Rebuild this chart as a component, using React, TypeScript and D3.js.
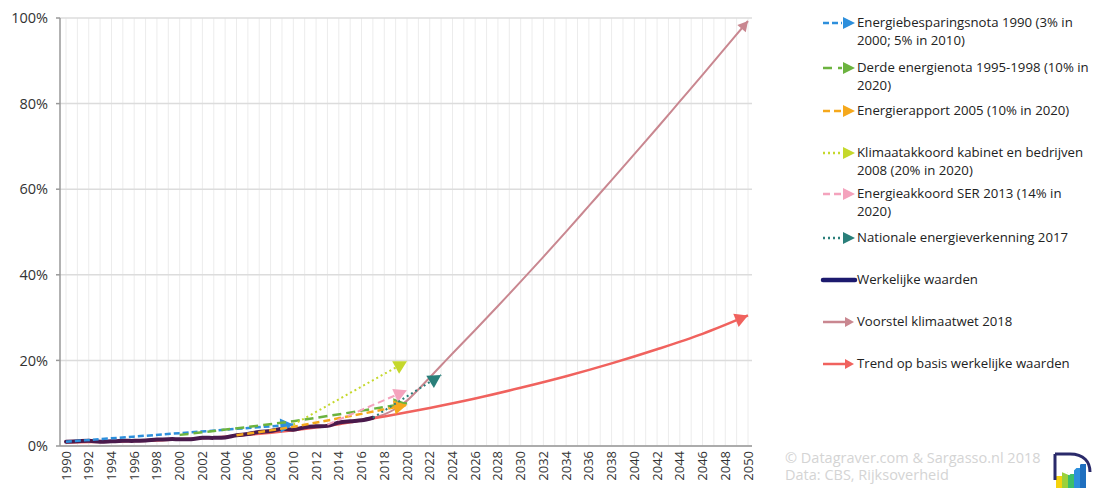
import React from "react";
import * as d3 from "d3";

const years = d3.range(1990, 2051);
const yTicks = [0, 20, 40, 60, 80, 100];

// Werkelijke waarden (actual share, %)
const actualYears = [1990,1991,1992,1993,1994,1995,1996,1997,1998,1999,2000,2001,2002,2003,2004,2005,2006,2007,2008,2009,2010,2011,2012,2013,2014,2015,2016,2017];
const actualValues = [1.0,1.1,1.2,1.0,1.1,1.2,1.2,1.3,1.5,1.6,1.6,1.6,1.9,1.9,2.0,2.5,2.8,3.3,3.5,4.0,3.8,4.4,4.6,4.7,5.5,5.8,6.0,6.6];

// Trend op basis werkelijke waarden
const trendYears = [1990,1994,1998,2002,2006,2010,2014,2018,2022,2026,2030,2034,2038,2042,2046,2050];
const trendValues = [0.8,1.0,1.3,1.8,2.6,3.7,5.1,6.9,8.9,11.1,13.6,16.3,19.3,22.6,26.2,30.5];

// Voorstel klimaatwet 2018
const klimaatwetYears = [2017,2018,2019,2020,2021,2022,2023,2024,2026,2028,2030,2032,2034,2036,2038,2040,2042,2044,2046,2048,2050];
const klimaatwetValues = [6.6,7.4,8.7,10.6,13.2,16.0,18.8,21.6,27.1,32.7,38.4,44.2,50.1,56.1,62.1,68.2,74.3,80.5,86.7,93.0,99.3];

// Policy targets
const nota1990Years = [1990, 2000, 2010];
const nota1990Values = [1.0, 3.0, 5.0];
const derdeYears = [2000, 2010, 2020];
const derdeValues = [2.6, 5.8, 10.0];
const rapport2005Years = [2005, 2010, 2015, 2020];
const rapport2005Values = [2.5, 4.5, 7.0, 9.6];
const klimaatakkoordYears = [2010, 2020];
const klimaatakkoordValues = [5.0, 19.8];
const serYears = [2013, 2020];
const serValues = [5.0, 13.0];
const nevYears = [2017, 2023];
const nevValues = [6.6, 16.6];

const FONT = "'Open Sans', 'DejaVu Sans', sans-serif";

type Series = {
  key: string;
  years: number[];
  values: number[];
  color: string;
  width: number;
  dash?: string;
};

const policySeries: Series[] = [
  { key: "nota", years: nota1990Years, values: nota1990Values, color: "#2d8fdc", width: 2.5, dash: "6,3" },
  { key: "derde", years: derdeYears, values: derdeValues, color: "#6cb33f", width: 2.5, dash: "9,5" },
  { key: "rapport", years: rapport2005Years, values: rapport2005Values, color: "#f5a81c", width: 2.5, dash: "7,4" },
  { key: "akkoord", years: klimaatakkoordYears, values: klimaatakkoordValues, color: "#c5d82c", width: 2, dash: "2,3" },
  { key: "ser", years: serYears, values: serValues, color: "#f4a3bd", width: 2, dash: "7,4" },
  { key: "nev", years: nevYears, values: nevValues, color: "#2a7f7a", width: 2, dash: "2,3" },
];

const legendItems = [
  { lines: ["Energiebesparingsnota 1990 (3% in", "2000; 5% in 2010)"], color: "#2d8fdc", dash: "6,3", kind: "arrow", y: 27 },
  { lines: ["Derde energienota 1995-1998 (10% in", "2020)"], color: "#6cb33f", dash: "9,6", kind: "arrow", y: 72 },
  { lines: ["Energierapport 2005 (10% in 2020)"], color: "#f5a81c", dash: "7,4", kind: "arrow", y: 115 },
  { lines: ["Klimaatakkoord kabinet en bedrijven", "2008 (20% in 2020)"], color: "#c5d82c", dash: "2,3", kind: "arrow", y: 157 },
  { lines: ["Energieakkoord SER 2013 (14% in", "2020)"], color: "#f4a3bd", dash: "7,4", kind: "arrow", y: 198 },
  { lines: ["Nationale energieverkenning 2017"], color: "#2a7f7a", dash: "2,3", kind: "arrow", y: 242 },
  { lines: ["Werkelijke waarden"], color: "#1c1a6e", dash: "", kind: "thick", y: 284 },
  { lines: ["Voorstel klimaatwet 2018"], color: "#c98790", dash: "", kind: "line", y: 326 },
  { lines: ["Trend op basis werkelijke waarden"], color: "#f0625e", dash: "", kind: "line", y: 368 },
];

export default function App() {
  const W = 1094, H = 488;
  const plotLeft = 60, plotRight = 752, plotTop = 18, plotBottom = 446;
  const x = d3.scaleLinear().domain([1990, 2050]).range([66, 748]);
  const y = d3.scaleLinear().domain([0, 100]).range([plotBottom, plotTop]);

  const mk = (ys: number[], vs: number[]) =>
    d3.line<number>().x((_, i) => x(ys[i])).y((v) => y(v)).curve(d3.curveCatmullRom.alpha(0.5))(vs) || "";

  const arrowHead = (ys: number[], vs: number[], color: string, size: number, key: string) => {
    const n = ys.length;
    const x1 = x(ys[n - 2]), y1 = y(vs[n - 2]);
    const x2 = x(ys[n - 1]), y2 = y(vs[n - 1]);
    const ang = Math.atan2(y2 - y1, x2 - x1) * 180 / Math.PI;
    return (
      <path
        key={key}
        d={`M0,0 L${-size},${-size * 0.55} L${-size},${size * 0.55} Z`}
        fill={color}
        transform={`translate(${x2},${y2}) rotate(${ang})`}
      />
    );
  };

  return (
    <svg width={W} height={H} style={{ position: "absolute", left: 0, top: 0, background: "#fff" }} fontFamily={FONT}>
      {years.map((yr) => (
        <line key={"vg" + yr} x1={x(yr)} x2={x(yr)} y1={plotTop} y2={plotBottom} stroke="#ececec" strokeWidth={1} />
      ))}
      {yTicks.map((t) => (
        <line key={"hg" + t} x1={plotLeft} x2={plotRight} y1={y(t)} y2={y(t)} stroke="#dcdcdc" strokeWidth={1.5} />
      ))}
      <line x1={plotLeft} x2={plotLeft} y1={plotTop} y2={plotBottom} stroke="#999" strokeWidth={1.5} />
      <line x1={plotLeft} x2={plotRight} y1={plotBottom} y2={plotBottom} stroke="#999" strokeWidth={1.5} />
      {yTicks.map((t) => (
        <g key={"yt" + t}>
          <line x1={plotLeft - 4} x2={plotLeft} y1={y(t)} y2={y(t)} stroke="#999" strokeWidth={1.5} />
          <text x={48} y={y(t)} dy="0.36em" textAnchor="end" fontSize={14.5} fill="#333">{t}%</text>
        </g>
      ))}
      {years.filter((yr) => (yr - 1990) % 2 === 0).map((yr) => (
        <text key={"xt" + yr} transform={`translate(${x(yr)},${plotBottom + 5}) rotate(-90)`} textAnchor="end" dy="0.35em" fontSize={13} fill="#333">{yr}</text>
      ))}

      {/* Voorstel klimaatwet 2018 */}
      <path d={mk(klimaatwetYears, klimaatwetValues)} fill="none" stroke="#c98790" strokeWidth={2} />
      {arrowHead(klimaatwetYears, klimaatwetValues, "#c98790", 10, "kwa")}

      {/* trend line (under actual) */}
      <path d={mk(trendYears, trendValues)} fill="none" stroke="#f0625e" strokeWidth={2.5} />
      {arrowHead(trendYears, trendValues, "#f0625e", 13, "tra")}

      {/* actual values */}
      <path d={mk(actualYears, actualValues)} fill="none" stroke="#4a1a4c" strokeWidth={4} strokeLinejoin="round" strokeLinecap="round" />

      {/* policy targets */}
      {policySeries.map((s) => (
        <g key={s.key}>
          <path d={mk(s.years, s.values)} fill="none" stroke={s.color} strokeWidth={s.width} strokeDasharray={s.dash} />
          {arrowHead(s.years, s.values, s.color, 13, s.key + "a")}
        </g>
      ))}

      {/* legend */}
      {legendItems.map((it, i) => (
        <g key={"lg" + i}>
          {it.kind === "arrow" && (
            <g>
              <line x1={823} x2={842} y1={it.y - 4} y2={it.y - 4} stroke={it.color} strokeWidth={2.5} strokeDasharray={it.dash} />
              <path d={`M${855},${it.y - 4} L${843},${it.y - 10} L${843},${it.y + 2} Z`} fill={it.color} />
            </g>
          )}
          {it.kind === "thick" && (
            <line x1={823} x2={855} y1={it.y - 4} y2={it.y - 4} stroke={it.color} strokeWidth={4.5} strokeLinecap="round" />
          )}
          {it.kind === "line" && (
            <g>
              <line x1={823} x2={846} y1={it.y - 4} y2={it.y - 4} stroke={it.color} strokeWidth={2.5} />
              <path d={`M${854},${it.y - 4} L${845},${it.y - 9} L${845},${it.y + 1} Z`} fill={it.color} />
            </g>
          )}
          {it.lines.map((l, j) => (
            <text key={j} x={857} y={it.y + j * 18} fontSize={13.2} fill="#222">{l}</text>
          ))}
        </g>
      ))}

      {/* watermark */}
      <text x={785} y={463} fontSize={14.5} fill="#d4d4d4">© Datagraver.com &amp; Sargasso.nl 2018</text>
      <text x={785} y={480} fontSize={14.5} fill="#d4d4d4">Data: CBS, Rijksoverheid</text>

      {/* logo */}
      <g transform="translate(1052,452)">
        <rect x={4} y={24} width={6} height={14} fill="#f5d20c" />
        <rect x={10} y={20} width={6} height={18} fill="#9bd13b" />
        <rect x={16} y={22} width={6} height={16} fill="#3cbf6a" />
        <rect x={22} y={16} width={6} height={22} fill="#2d8fdc" />
        <rect x={28} y={12} width={6} height={26} fill="#1f6fbf" />
        <path d="M3,24 L10,19 L17,22 L25,14 L36,5" fill="none" stroke="#fff" strokeWidth={2} />
        <path d="M3,2 L3,28 M3,2 L18,2 C32,2 38,10 38,20" fill="none" stroke="#2a2a6a" strokeWidth={3} />
      </g>
    </svg>
  );
}
